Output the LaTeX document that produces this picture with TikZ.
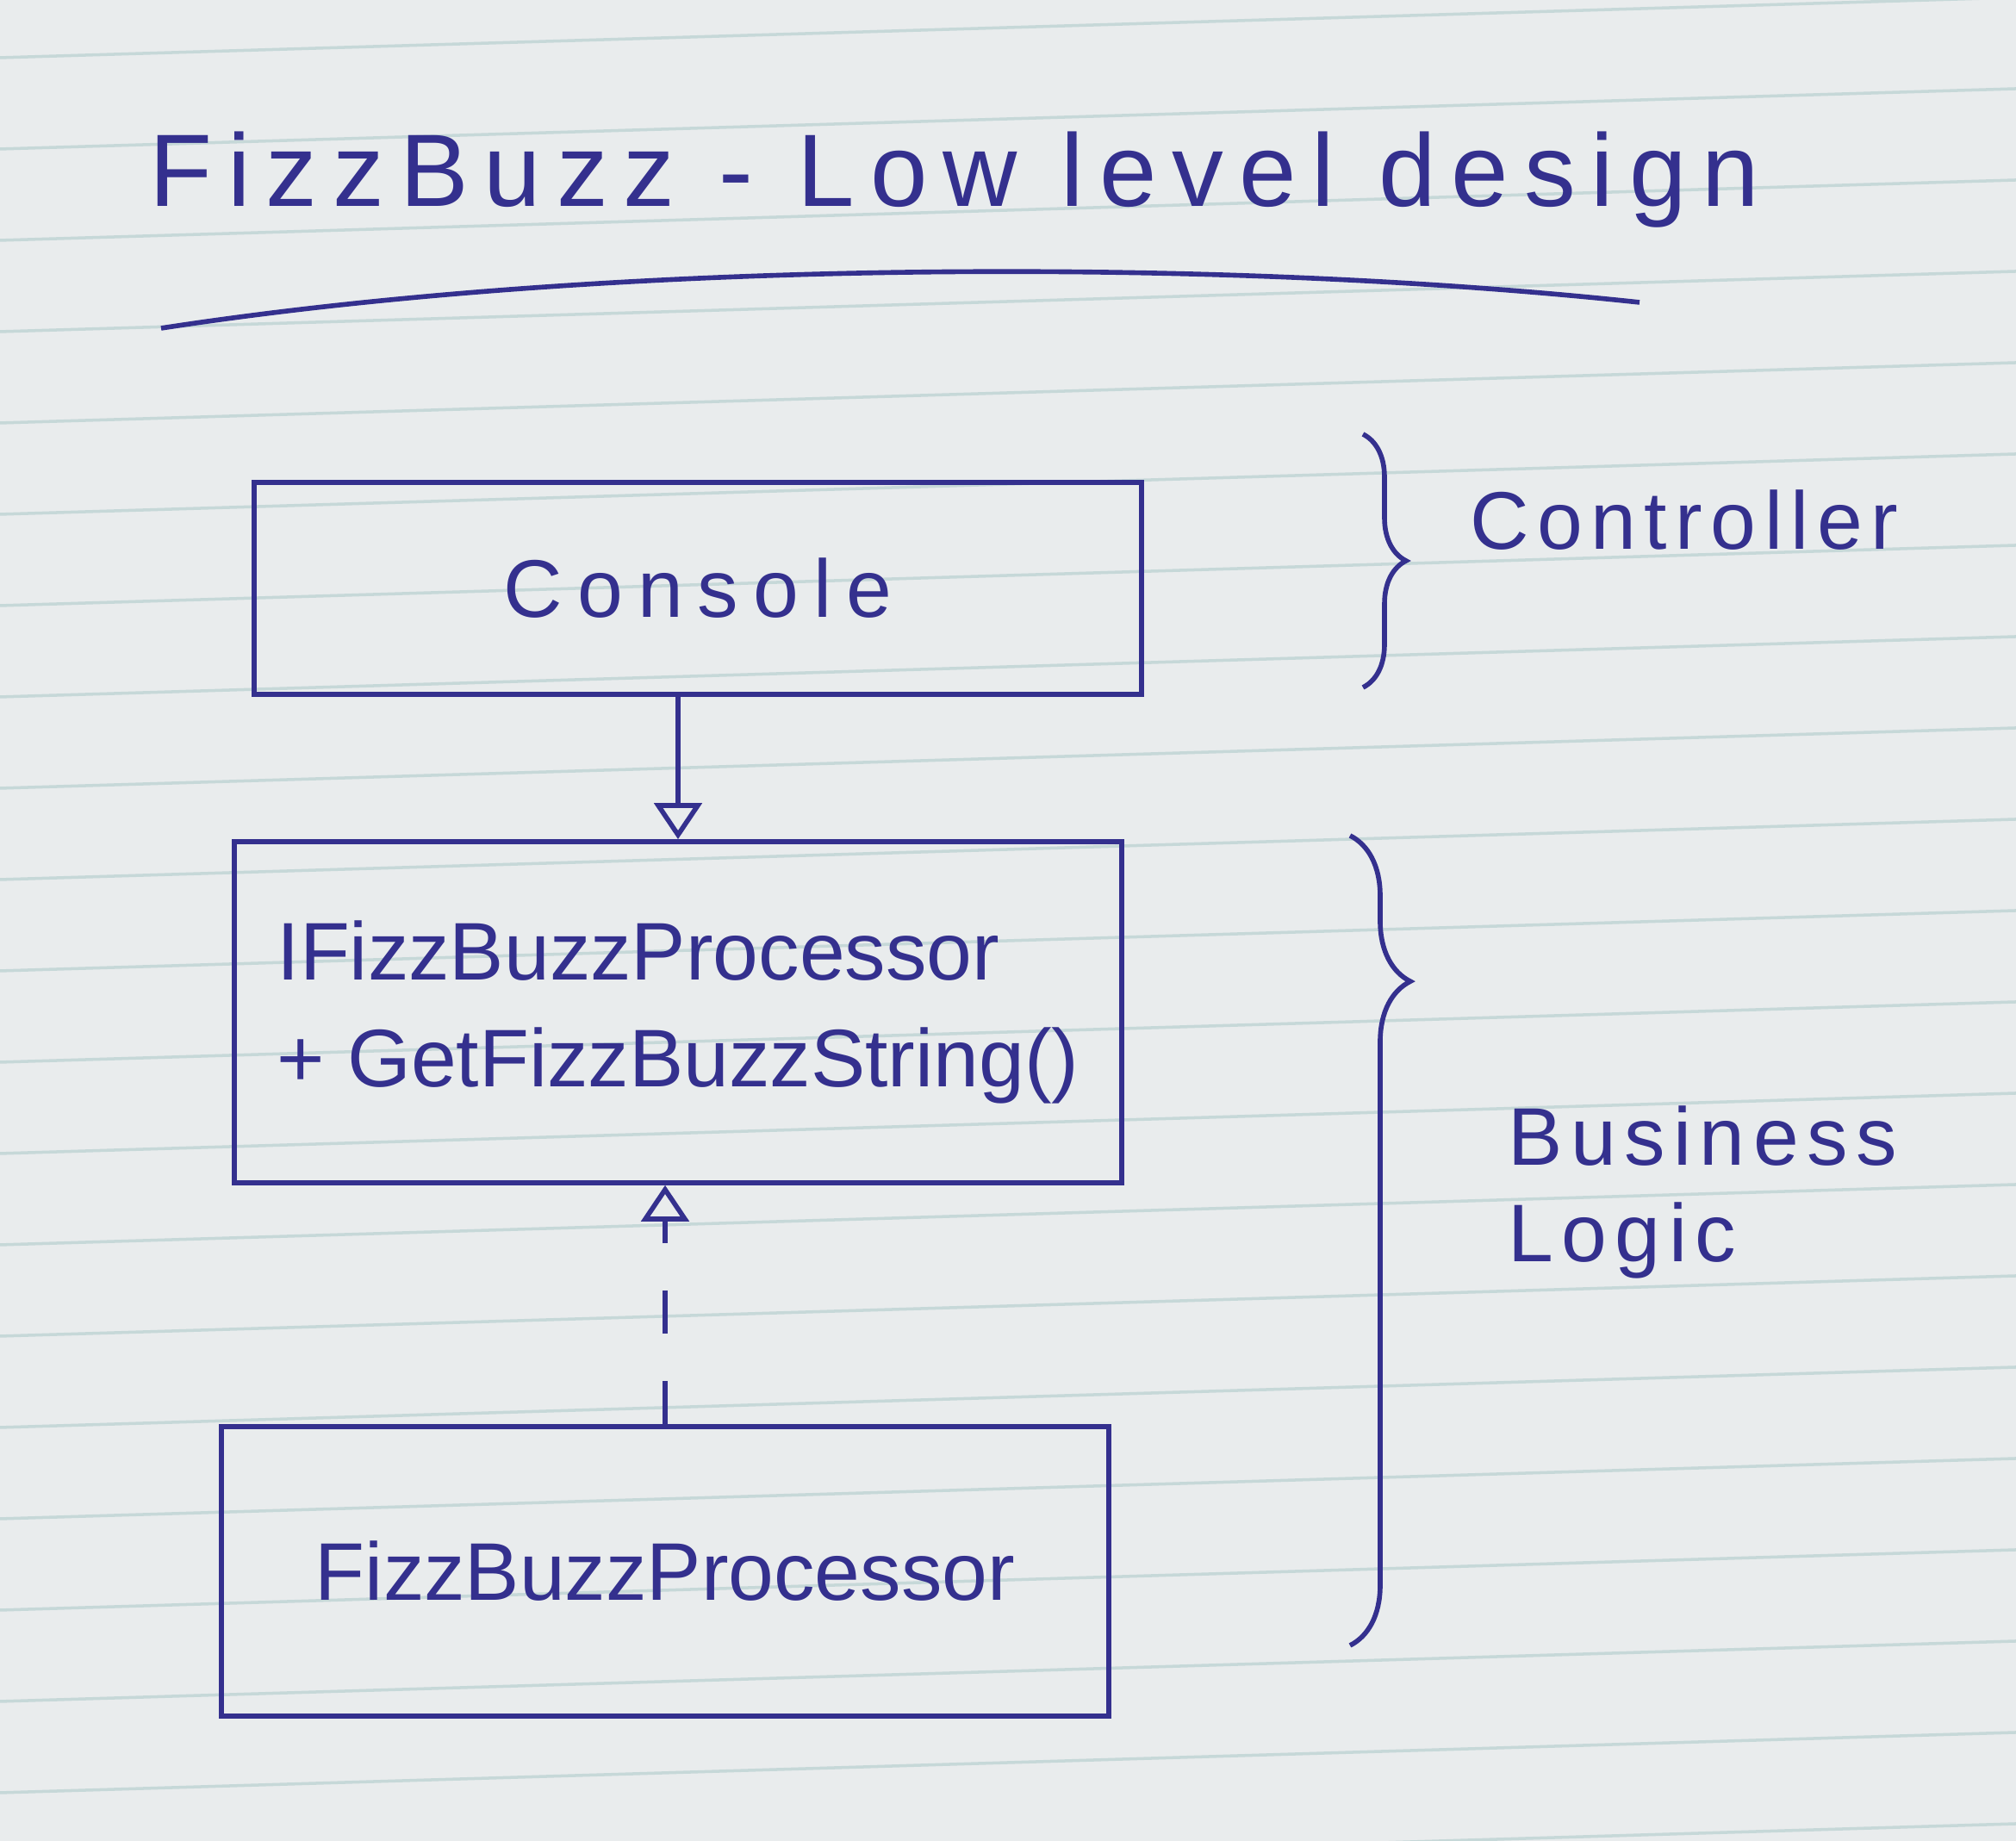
\documentclass[tikz,border=0pt]{standalone}
\usepackage{fontspec}
\usetikzlibrary{arrows.meta,decorations.pathreplacing}
\newfontfamily\handfont{Liberation Sans}
\definecolor{ink}{RGB}{52,48,142}
\definecolor{paper}{RGB}{233,236,237}
\definecolor{rule}{RGB}{198,216,216}

\begin{document}
\begin{tikzpicture}[
		b/.style = {rectangle, draw=ink, line width=1.6pt, minimum width=10.3cm, text=ink, font=\handfont\fontsize{27}{35}\selectfont, align=left},
		l/.style = {text=ink, font=\handfont\fontsize{27}{32}\selectfont\addfontfeature{LetterSpace=10}, align=left},
		r/.style = {-{Triangle[open, width=0.55cm, length=0.42cm]}, draw=ink, line width=1.6pt},
		d/.style = {r, dash pattern=on 0.5cm off 0.55cm},
		br/.style = {draw=ink, line width=1.6pt, decorate},
		]
		
		%Paper
		\useasboundingbox (0,0) rectangle (23.4,21.37);
		\fill[paper] (0,0) rectangle (23.4,21.37);
		\begin{scope}
			\clip (0,0) rectangle (23.4,21.37);
			\foreach \k in {-7,...,14}
				\draw[rule, line width=1pt] (0,6.92+1.06*\k) -- (23.4,7.62+1.06*\k);
		\end{scope}
		
		%Nodes
		\node[l, font=\handfont\fontsize{34}{40}\selectfont\addfontfeature{LetterSpace=15}]	(title)	at	(11.08, 19.28)	{FizzBuzz - Low level design};
		\node[b, minimum height=2.46cm, font=\handfont\fontsize{27}{35}\selectfont\addfontfeature{LetterSpace=18}]	(console)	at	(8.10, 14.54)	{Console};
		\node[b, minimum height=3.96cm]	(iface)	at	(7.87, 9.62)	{IFizzBuzzProcessor\\+ GetFizzBuzzString()};
		\node[b, minimum height=3.36cm]	(proc)	at	(7.72, 3.13)	{FizzBuzzProcessor};
		\node[l, anchor=west]	(ctrl)	at	(16.94, 15.33)	{Controller};
		\node[l, anchor=west]	(logic)	at	(17.38, 7.53)	{Business\\Logic};
		
		\coordinate	(ctop)	at	(15.82, 16.33);
		\coordinate	(cbot)	at	(15.82, 13.39);
		\coordinate	(ltop)	at	(15.67, 11.67);
		\coordinate	(lbot)	at	(15.67, 2.27);
		
		%Lines
		\draw[ink, line width=1.6pt]	(1.87, 17.56) .. controls (7, 18.35) and (14, 18.4) .. (19.03, 17.86);
		\draw[r]	(iface.north |- console.south)	--	(iface.north);
		\draw[d]	(proc.north)	--	(proc.north |- iface.south);
		\draw[br, decoration={brace, amplitude=0.5cm}]	(ctop)	--	(cbot);
		\draw[br, decoration={brace, amplitude=0.7cm, aspect=0.18}]	(ltop)	--	(lbot);
		
	\end{tikzpicture}
\end{document}
